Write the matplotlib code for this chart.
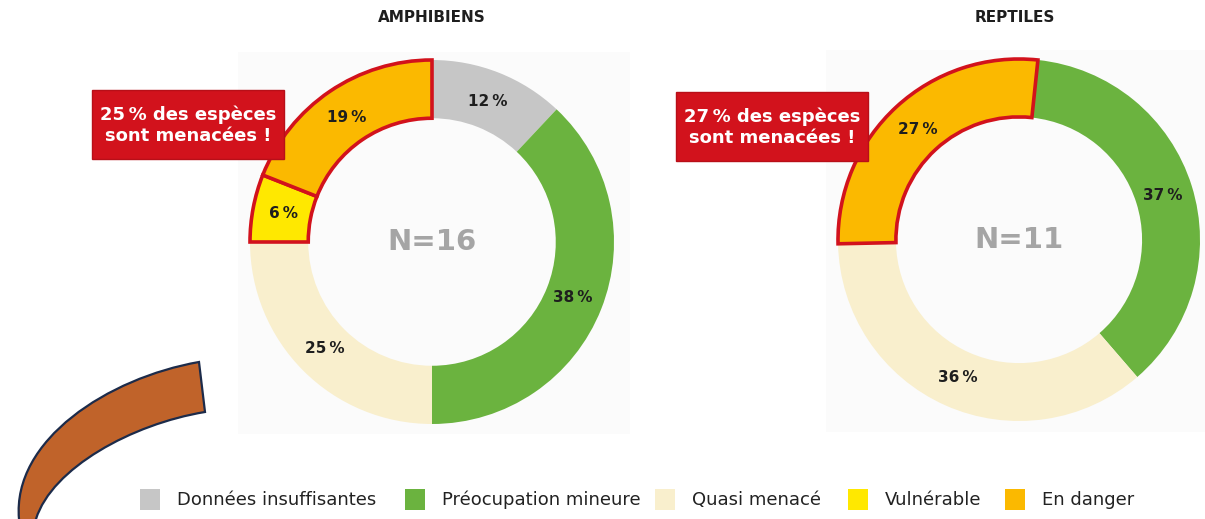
import matplotlib.pyplot as plt
from matplotlib.patches import Rectangle, PathPatch
from matplotlib.path import Path

# Données (pourcentages des espèces par statut UICN)
categories = ["Données insuffisantes", "Préocupation mineure", "Quasi menacé",
              "Vulnérable", "En danger"]
amphibiens = [12, 38, 25, 6, 19]
reptiles = [0, 37, 36, 0, 27]
groups = ["AMPHIBIENS", "REPTILES"]
n_species = [16, 11]
threatened_share = [25, 27]
threatened = ["Vulnérable", "En danger"]

colors = ["#c6c6c6", "#6bb33f", "#f9efcd", "#ffe800", "#fbb900"]
red = "#d2121c"

plt.rcParams["font.family"] = ["DejaVu Sans"]

W, H = 1205, 519
fig = plt.figure(figsize=(W / 100, H / 100), dpi=100)

# fond (très léger gris derrière les anneaux)
bg = fig.add_axes([0, 0, 1, 1])
bg.set_xlim(0, W)
bg.set_ylim(H, 0)
bg.axis("off")
bg.add_patch(Rectangle((238, 52), 392, 382, color="#fbfbfb", lw=0))
bg.add_patch(Rectangle((826, 50), 379, 382, color="#fbfbfb", lw=0))


def donut(cx, cy, r, values, start, n):
    half = 1.05 * r
    ax = fig.add_axes([(cx - half) / W, (H - cy - half) / H, 2 * half / W, 2 * half / H])
    keep = [i for i, v in enumerate(values) if v > 0]
    vals = [values[i] for i in keep]
    cols = [colors[i] for i in keep]
    cats = [categories[i] for i in keep]
    wedges, _, pcts = ax.pie(vals, colors=cols, startangle=start, counterclock=False,
                             wedgeprops=dict(width=0.32, linewidth=0),
                             autopct=lambda p: f"{p:.0f}\u2009%", pctdistance=0.83,
                             textprops=dict(fontsize=11, fontweight="bold", color="#1e1e1e"))
    for w, cat in zip(wedges, cats):
        if cat in threatened:
            w.set_edgecolor(red)
            w.set_linewidth(2.6)
            w.set_zorder(3)
    for t in pcts:
        t.set_zorder(5)
    ax.set_xlim(-1.05, 1.05)
    ax.set_ylim(-1.05, 1.05)
    ax.text(0, 0, f"N={n}", ha="center", va="center", fontsize=21,
            fontweight="bold", color="#a5a5a5")
    return ax


donut(432, 242, 182, amphibiens, 90, n_species[0])
donut(1019, 240, 181, reptiles, 84, n_species[1])

# calque du dessus : titres, encadrés, légende, flèche
ov = fig.add_axes([0, 0, 1, 1])
ov.set_xlim(0, W)
ov.set_ylim(H, 0)
ov.axis("off")
ov.patch.set_alpha(0)

for x, title in zip([432, 1015], groups):
    ov.text(x, 18, title, ha="center", va="center", fontsize=11, fontweight="bold",
            color="#1e1e1e")

for (bx, by), share in zip([(92, 90), (676, 92)], threatened_share):
    ov.add_patch(Rectangle((bx, by), 192, 69, facecolor=red, edgecolor="#b80f18",
                           lw=1, zorder=6))
    ov.text(bx + 96, by + 35, f"{share}\u2009% des espèces\nsont menacées !",
            ha="center", va="center", fontsize=13, fontweight="bold", color="white",
            linespacing=1.25, zorder=7)

# légende
sq_x = [140, 405, 655, 848, 1005]
for x, lab, c in zip(sq_x, categories, colors):
    ov.add_patch(Rectangle((x, 489), 20, 21, color=c, lw=0))
    ov.text(x + 37, 500, lab, ha="left", va="center", fontsize=13, color="#222222",
            fontweight="medium")

# flèche courbe décorative
verts = [(199, 362), (108, 378), (12, 440), (19, 519),
         (20, 530), (38, 530), (36, 519),
         (52, 468), (132, 424), (205, 412),
         (199, 362)]
codes = [Path.MOVETO, Path.CURVE4, Path.CURVE4, Path.CURVE4,
         Path.LINETO, Path.LINETO, Path.LINETO,
         Path.CURVE4, Path.CURVE4, Path.CURVE4,
         Path.CLOSEPOLY]
ov.add_patch(PathPatch(Path(verts, codes), facecolor="#c0632a", edgecolor="#1c2b4a",
                       lw=1.6, zorder=8))

fig.savefig("out.png", dpi=100)
